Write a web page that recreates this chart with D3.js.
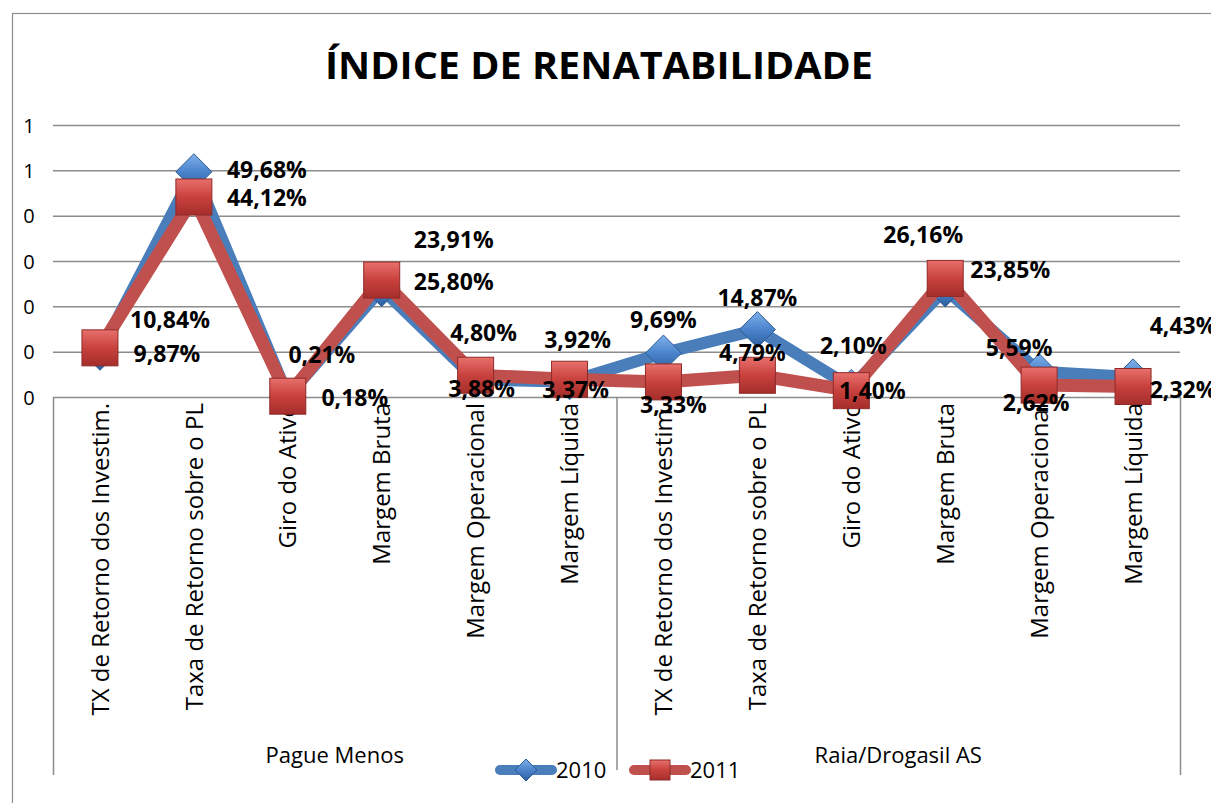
<!DOCTYPE html>
<html><head><meta charset="utf-8">
<script src="https://cdn.jsdelivr.net/npm/d3@7"></script>
<style>
html,body{margin:0;padding:0;background:#fff;}
svg{display:block;}
</style></head>
<body>
<svg id="chart" width="1211" height="803"></svg>
<script>
// ---------- DATA ----------
const groups = ["Pague Menos", "Raia/Drogasil AS"];
const indicators = ["TX de Retorno dos Investim.", "Taxa de Retorno sobre o PL", "Giro do Ativo", "Margem Bruta", "Margem Operacional", "Margem Líquida"];
const seriesNames = ["2010", "2011"];
const values2010 = [9.87, 49.68, 0.21, 23.91, 3.88, 3.37, 9.69, 14.87, 2.10, 23.85, 5.59, 4.43];
const values2011 = [10.84, 44.12, 0.18, 25.80, 4.80, 3.92, 3.33, 4.79, 1.40, 26.16, 2.62, 2.32];
const yTickValues = [0, 0.1, 0.2, 0.3, 0.4, 0.5, 0.6];
const yTickLabels = ["0", "0", "0", "0", "0", "1", "1"];
const title = "ÍNDICE DE RENATABILIDADE";

// ---------- LAYOUT (label nudges, px from point) ----------
const nudge2010 = [[67,2],[73,-2],[34,-41],[72,-49],[6,10],[6,8],[0,-33],[0,-32],[2,-42],[65,-19],[-20,-24],[50,-51]];
const nudge2011 = [[70,-28],[73,1],[67,2],[72,2],[8,-42],[8,-39],[10,23],[-5,-22],[21,0],[-22,-43],[-3,18],[50,3]];

const svg = d3.select("#chart");
const W = 1211, H = 803;
const plot = {left: 53, right: 1180, top: 125, bottom: 397};
const blue = "#4a7ebb", red = "#c0504d";
const font = "'Open Sans', 'Liberation Sans', sans-serif";

// categories (flattened)
const cats = [];
groups.forEach((g, gi) => indicators.forEach((ind, ii) => cats.push({g, ind, idx: gi * indicators.length + ii})));

const x = d3.scaleBand().domain(cats.map(c => c.idx)).range([plot.left, plot.right]).paddingInner(0).paddingOuter(0);
const cx = i => x(i) + x.bandwidth() / 2;
const y = d3.scaleLinear().domain([0, 0.6]).range([plot.bottom, plot.top]);

// defs: gradients
const defs = svg.append("defs");
const gR = defs.append("linearGradient").attr("id", "gRed").attr("x1", "0").attr("y1", "0").attr("x2", "0").attr("y2", "1");
gR.append("stop").attr("offset", "0%").attr("stop-color", "#e8706c");
gR.append("stop").attr("offset", "50%").attr("stop-color", "#c8413d");
gR.append("stop").attr("offset", "100%").attr("stop-color", "#a52e2b");
const gB = defs.append("linearGradient").attr("id", "gBlue").attr("x1", "0").attr("y1", "0").attr("x2", "0").attr("y2", "1");
gB.append("stop").attr("offset", "0%").attr("stop-color", "#7fb0ea");
gB.append("stop").attr("offset", "50%").attr("stop-color", "#4b84cc");
gB.append("stop").attr("offset", "100%").attr("stop-color", "#2d5f9e");

// chart border
svg.append("rect").attr("x", 12.5).attr("y", 13.5).attr("width", W).attr("height", H)
  .attr("fill", "none").attr("stroke", "#8c8c8c").attr("stroke-width", 1.2);

// title
svg.append("text").attr("x", 599).attr("y", 79).attr("text-anchor", "middle")
  .attr("font-family", font).attr("font-weight", 700).attr("font-size", 37)
  .attr("textLength", 548).attr("lengthAdjust", "spacingAndGlyphs")
  .text(title);

// gridlines
svg.append("g").selectAll("line").data(yTickValues).join("line")
  .attr("x1", plot.left).attr("x2", plot.right)
  .attr("y1", d => y(d) + 0.5).attr("y2", d => y(d) + 0.5)
  .attr("stroke", "#8c8c8c").attr("stroke-width", 1.5);

// y tick labels
const yAxis = d3.axisLeft(y).tickValues(yTickValues).tickSize(0).tickFormat((d, i) => yTickLabels[i]);
const yg = svg.append("g").attr("transform", `translate(${plot.left - 22},0)`).call(yAxis);
yg.select(".domain").remove();
yg.selectAll("text").attr("font-family", font).attr("font-size", 20).attr("fill", "#000")
  .attr("text-anchor", "middle").attr("x", -2).attr("dy", "0.35em");

// multi-level category separators
const sepX = [plot.left, x(indicators.length), plot.right];
svg.append("g").selectAll("line").data(sepX).join("line")
  .attr("x1", d => d + 0.5).attr("x2", d => d + 0.5)
  .attr("y1", plot.bottom).attr("y2", (d, i) => i === 1 ? 770 : 775)
  .attr("stroke", "#8c8c8c").attr("stroke-width", 1.5);

// category labels
svg.append("g").selectAll("text").data(cats).join("text")
  .attr("transform", d => `translate(${cx(d.idx)},403) rotate(-90)`)
  .attr("text-anchor", "end").attr("dy", "0.36em")
  .attr("font-family", font).attr("font-size", 24).attr("fill", "#000")
  .text(d => d.ind);

// group labels
svg.append("g").selectAll("text").data(groups).join("text")
  .attr("x", (d, i) => (sepX[i] + sepX[i + 1]) / 2).attr("y", 763)
  .attr("text-anchor", "middle").attr("font-family", font).attr("font-size", 22).attr("fill", "#000")
  .text(d => d);

// lines + markers
const line = d3.line().x((d, i) => cx(i)).y(d => y(d / 100));
const diamond = (g, px, py, s) => g.append("path")
  .attr("d", `M${px},${py - s / 2}L${px + s / 2},${py}L${px},${py + s / 2}L${px - s / 2},${py}Z`)
  .attr("fill", "url(#gBlue)").attr("stroke", "#2d5a92").attr("stroke-width", 1);
const square = (g, px, py, s) => g.append("rect")
  .attr("x", px - s / 2).attr("y", py - s / 2).attr("width", s).attr("height", s)
  .attr("fill", "url(#gRed)").attr("stroke", "#8e2a28").attr("stroke-width", 1);

const s1 = svg.append("g");
s1.append("path").datum(values2010).attr("d", line).attr("fill", "none")
  .attr("stroke", blue).attr("stroke-width", 12).attr("stroke-linejoin", "round").attr("stroke-linecap", "round");
values2010.forEach((v, i) => diamond(s1, cx(i), y(v / 100), 36));

const s2 = svg.append("g");
s2.append("path").datum(values2011).attr("d", line).attr("fill", "none")
  .attr("stroke", red).attr("stroke-width", 13).attr("stroke-linejoin", "round").attr("stroke-linecap", "round");
values2011.forEach((v, i) => square(s2, cx(i), y(v / 100), 36));

// data labels
const fmt = v => d3.format(".2f")(v).replace(".", ",") + "%";
const lab = svg.append("g").attr("font-family", font).attr("font-weight", 700).attr("font-size", 23).attr("fill", "#000");
[[values2010, nudge2010], [values2011, nudge2011]].forEach(([vals, nud]) => {
  lab.selectAll(null).data(vals).join("text")
    .attr("x", (d, i) => cx(i) + nud[i][0]).attr("y", (d, i) => y(d / 100) + nud[i][1])
    .attr("text-anchor", "middle").attr("dy", "0.35em").text(d => fmt(d));
});

// legend
const lg = svg.append("g");
const legY = 770;
lg.append("line").attr("x1", 500).attr("x2", 552).attr("y1", legY).attr("y2", legY)
  .attr("stroke", blue).attr("stroke-width", 10).attr("stroke-linecap", "round");
diamond(lg, 526, legY, 22);
lg.append("text").attr("x", 556).attr("y", legY).attr("dy", "0.35em").attr("font-family", font).attr("font-size", 22).text(seriesNames[0]);
lg.append("line").attr("x1", 634).attr("x2", 686).attr("y1", legY).attr("y2", legY)
  .attr("stroke", red).attr("stroke-width", 10).attr("stroke-linecap", "round");
square(lg, 660, legY, 20);
lg.append("text").attr("x", 690).attr("y", legY).attr("dy", "0.35em").attr("font-family", font).attr("font-size", 22).text(seriesNames[1]);
</script>
</body></html>
